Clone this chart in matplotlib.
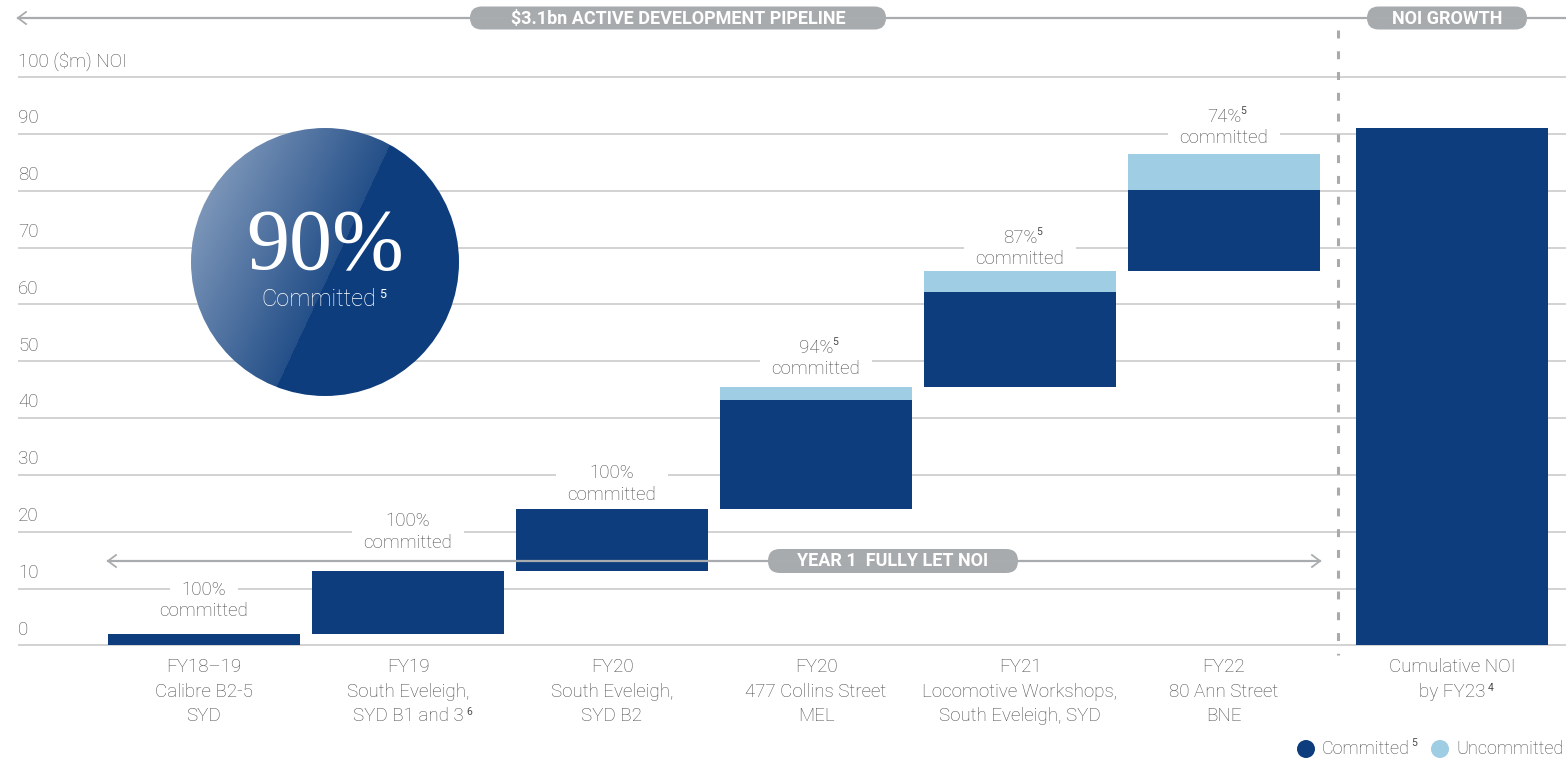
import numpy as np
import matplotlib
matplotlib.use("Agg")
import matplotlib.pyplot as plt
from matplotlib.transforms import Affine2D, blended_transform_factory
from matplotlib.patches import FancyBboxPatch, Circle
from matplotlib.lines import Line2D

# ---------------- data ----------------
category_labels = [
    "FY18–19\nCalibre B2-5\nSYD",
    "FY19\nSouth Eveleigh,\nSYD B1 and 3",
    "FY20\nSouth Eveleigh,\nSYD B2",
    "FY20\n477 Collins Street\nMEL",
    "FY21\nLocomotive Workshops,\nSouth Eveleigh, SYD",
    "FY22\n80 Ann Street\nBNE",
]
category_notes = ["", "6", "", "", "", ""]
committed = [2.0, 11.0, 11.0, 19.2, 16.7, 14.4]      # $m NOI
uncommitted = [0.0, 0.0, 0.0, 2.3, 3.6, 6.3]         # $m NOI
committed_pct = ["100%", "100%", "100%", "94%", "87%", "74%"]
pct_notes = ["", "", "", "5", "5", "5"]
cumulative_label = "Cumulative NOI\nby FY23"
cumulative_note = "4"
cumulative_noi = 91.0
y_ticks = [0, 10, 20, 30, 40, 50, 60, 70, 80, 90, 100]
portfolio_committed = "90%"

# ---------------- style ----------------
W, H = 1566, 759
NAVY = "#0d3d7c"
LIGHT = "#9ecde4"
GRID = "#cfcfcf"
TEXT = "#4a4a4a"
PILL = "#a8abad"
SANS = ["Roboto", "DejaVu Sans"]
plt.rcParams["font.family"] = SANS

fig = plt.figure(figsize=(W / 100, H / 100), dpi=100)
ax = fig.add_axes([0, 0, 1, 1])
ax.set_xlim(-1.0, (W - 204) / 204)
ax.set_ylim(-20.0, 113.55)
ax.axis("off")

# pixel space with origin at the top-left corner
PX = Affine2D().scale(1 / W, -1 / H).translate(0, 1) + fig.transFigure
XDATA_YPX = blended_transform_factory(ax.transData, PX)

committed = np.array(committed)
uncommitted = np.array(uncommitted)
base = np.concatenate([[0.0], np.cumsum(committed + uncommitted)[:-1]])
x = np.arange(len(committed))
bar_w = 0.94
x_cum = 6.118

# gridlines and y tick labels
x_left = (18 - 204) / 204
ax.hlines(y_ticks, x_left, ax.get_xlim()[1], color=GRID, lw=1.3, zorder=0.5)
for t in y_ticks:
    lab = f"{t} ($m) NOI" if t == y_ticks[-1] else f"{t}"
    ax.text(x_left, t + 2.75, lab, ha="left", va="center", fontsize=13.5,
            color=TEXT, fontweight="light")

# waterfall bars
ax.bar(x, committed, bottom=base, width=bar_w, color=NAVY, zorder=2)
ax.bar(x, uncommitted, bottom=base + committed, width=bar_w, color=LIGHT, zorder=2)
ax.bar([x_cum], [cumulative_noi], width=bar_w, color=NAVY, zorder=2)

# commitment labels above each bar: white knock-out boxes first, then the text
label_lift = [5.9, 6.9, 4.4, 5.0, 4.0, 4.6]
tops = base + committed + uncommitted
box = dict(boxstyle="square,pad=0.6", fc="white", ec="none")
lab_kw = dict(ha="center", va="center", fontsize=13.5, fontweight="light")
for i in range(len(x)):
    yc = tops[i] + label_lift[i]
    for dy, s in [(1.9, committed_pct[i]), (-1.9, "committed")]:
        ax.text(x[i], yc + dy, s, color=(0, 0, 0, 0), bbox=box, zorder=1.3, **lab_kw)
    t1 = ax.text(x[i], yc + 1.9, committed_pct[i], color=TEXT, zorder=1.6, **lab_kw)
    ax.text(x[i], yc - 1.9, "committed", color=TEXT, zorder=1.6, **lab_kw)
    if pct_notes[i]:
        ax.annotate(pct_notes[i], xy=(1, 1), xycoords=t1, xytext=(-0.5, 1),
                    textcoords="offset points", ha="left", va="top",
                    fontsize=7.5, color=TEXT, zorder=1.7)

# category labels
line_y = [667, 692, 716]
def category(xpos, label, note):
    lines = label.split("\n")
    last = None
    for k, s in enumerate(lines):
        last = ax.text(xpos, line_y[k], s, transform=XDATA_YPX, ha="center",
                       va="center", fontsize=13.5, color=TEXT, fontweight="light")
    if note:
        ax.annotate(note, xy=(1, 1), xycoords=last, xytext=(2, 0),
                    textcoords="offset points", ha="left", va="top",
                    fontsize=7.5, color=TEXT)

for i in range(len(x)):
    category(x[i], category_labels[i], category_notes[i])
category(x_cum, cumulative_label, cumulative_note)

# divider between pipeline and growth
fig.add_artist(Line2D([1338, 1338], [30, 655], transform=PX, color="#aaaaaa",
                      lw=2.2, linestyle=(0, (2.6, 4.2))))

# top banner
def chevron(xp, yp, direction):
    fig.add_artist(Line2D([xp + 8 * direction, xp, xp + 8 * direction],
                          [yp - 6, yp, yp + 6], transform=PX, color="#a9acae",
                          lw=1.3))

fig.add_artist(Line2D([18, W], [18, 18], transform=PX, color="#a9acae", lw=1.6))
chevron(18, 18, 1)

def pill(x0, x1, yc, h, text, size):
    fig.add_artist(FancyBboxPatch((x0, yc - h / 2), x1 - x0, h,
                                  boxstyle=f"round,pad=0,rounding_size={h / 2}",
                                  transform=PX, fc=PILL, ec="none"))
    fig.text((x0 + x1) / 2, yc + 0.5, text, transform=PX, ha="center", va="center",
             fontsize=size, color="white", fontweight="bold")

pill(470, 886, 18, 23, "$3.1bn ACTIVE DEVELOPMENT PIPELINE", 13)
pill(1367, 1527, 18, 23, "NOI GROWTH", 13)

# year-one arrow across the pipeline bars
fig.add_artist(Line2D([108, 1320], [561, 561], transform=PX, color="#a9acae", lw=1.6))
chevron(108, 561, 1)
chevron(1320, 561, -1)
pill(768, 1018, 561, 24, "YEAR 1  FULLY LET NOI", 13)

# legend
for cx, col, lab, note in [(1306, NAVY, "Committed", "5"),
                           (1440, LIGHT, "Uncommitted", "")]:
    fig.add_artist(Circle((cx, 749), 9, transform=PX, fc=col, ec="none"))
    fig.text(cx + 16, 749, lab, transform=PX, ha="left", va="center",
             fontsize=13, color=TEXT, fontweight="light")
    if note:
        fig.text(cx + 16 + 89, 743, note, transform=PX, ha="left", va="center",
                 fontsize=7.5, color=TEXT)

# portfolio commitment badge
D = 268
cax = fig.add_axes([191 / W, 1 - 396 / H, D / W, D / H])
cax.set_xlim(0, D)
cax.set_ylim(D, 0)
cax.axis("off")
yy, xx = np.mgrid[0:D, 0:D] + 0.5
p0 = np.array([192.0, 32.0])
dv = np.array([-103.0, 220.0])
dv /= np.linalg.norm(dv)
nv = np.array([-dv[1], dv[0]])
if nv[0] > 0:
    nv = -nv
d = (xx - p0[0]) * nv[0] + (yy - p0[1]) * nv[1]
frac = np.where(d > 0, 0.2 + 0.8 * np.clip(d / 150, 0, 1), 0.0)
dark = np.array([13, 61, 124]) / 255
light = np.array([128, 153, 187]) / 255
img = dark + (light - dark) * frac[..., None]
im = cax.imshow(img, extent=(0, D, D, 0), interpolation="bilinear")
im.set_clip_path(Circle((D / 2, D / 2), D / 2, transform=cax.transData))
cax.text(134, 120, portfolio_committed, ha="center", va="center", fontsize=62,
         family="Liberation Serif", color="white")
ct = cax.text(128, 171, "Committed", ha="center", va="center", fontsize=17,
              color="white", fontweight="light")
cax.annotate("5", xy=(1, 1), xycoords=ct, xytext=(2, 0), textcoords="offset points",
             ha="left", va="top", fontsize=9, color="white")

fig.savefig("out.png", dpi=100)
